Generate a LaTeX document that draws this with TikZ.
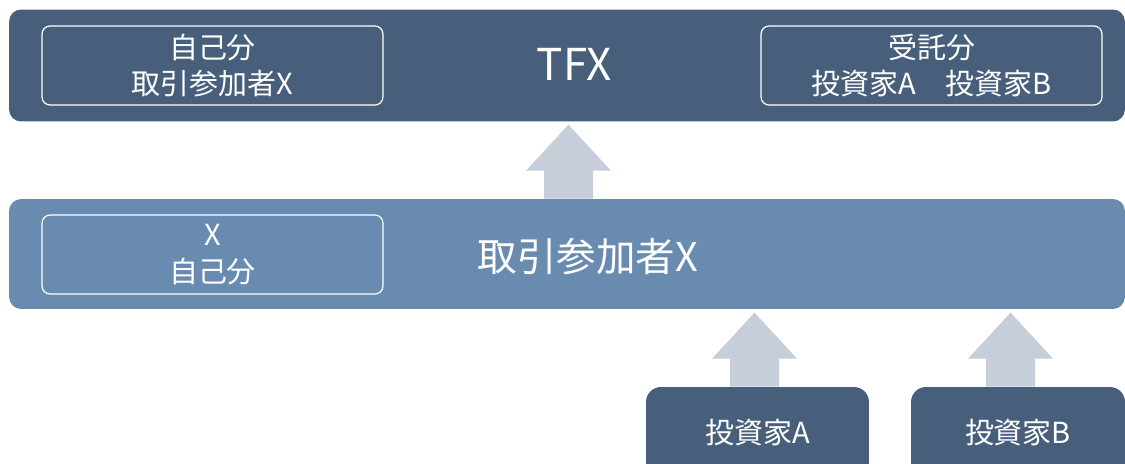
\documentclass[tikz,border=0pt]{standalone}
\usepackage{fontspec}
\setmainfont{Noto Sans CJK JP}
\usetikzlibrary{calc}
\definecolor{darkband}{HTML}{475F7B}
\definecolor{midband}{HTML}{6A8BB0}
\definecolor{arrowgrey}{HTML}{C5CED9}
\begin{document}
\begin{tikzpicture}[x=0.02cm,y=-0.02cm,
    band/.style={rounded corners=0.24cm, inner sep=0pt, minimum width=22.32cm},
    inbox/.style={draw=white, line width=0.7pt, rounded corners=0.16cm, minimum width=6.82cm, minimum height=1.58cm, inner sep=0pt, text=white, align=center, font=\fontsize{16.5}{21}\selectfont},
    invbox/.style={fill=darkband, rounded corners=0.3cm, minimum height=1.84cm, text=white, font=\fontsize{16.5}{21}\selectfont},
    bigtext/.style={text=white, font=\fontsize{22.5}{27}\selectfont},
    blockarrow/.style={fill=arrowgrey}]
    \useasboundingbox (0,0) rectangle (1125,463);
    \clip (0,0) rectangle (1125,463);

    % two bands
    \node[band, fill=darkband, minimum height=2.24cm] (tfxband) at (567,65.5) {};
    \node[band, fill=midband, minimum height=2.2cm] (xband) at (567,254) {};
    \node[bigtext, font=\fontsize{25}{30}\selectfont] (tfx) at (574,64) {TFX};
    \node[bigtext] (xname) at (588,257) {取引参加者X};

    \node[inbox] (selftop) at (212.5,65.5) {自己分\\取引参加者X};
    \node[inbox] (trust) at (931.5,65.5) {受託分\\投資家A　投資家B};
    \node[inbox] (selfmid) at (212.5,254.5) {X\\自己分};

    % investors
    \node[invbox, minimum width=4.46cm] (invA) at (757.5,433) {投資家A};
    \node[invbox, minimum width=4.28cm] (invB) at (1018,433) {投資家B};

    \coordinate (baseT) at ($(xband.north)+(1.5,0)$);
    \coordinate (baseA) at ($(invA.north)+(-3,0)$);
    \coordinate (baseB) at ($(invB.north)+(-7.5,0)$);
    \foreach \b in {baseT,baseA,baseB} {
        \fill[blockarrow] ($(\b)+(-24.5,0)$) -- ($(\b)+(-24.5,-28)$) -- ($(\b)+(-42.5,-28)$) -- ($(\b)+(0,-74)$)
            -- ($(\b)+(42.5,-28)$) -- ($(\b)+(24.5,-28)$) -- ($(\b)+(24.5,0)$) -- cycle;
    }
\end{tikzpicture}
\end{document}
